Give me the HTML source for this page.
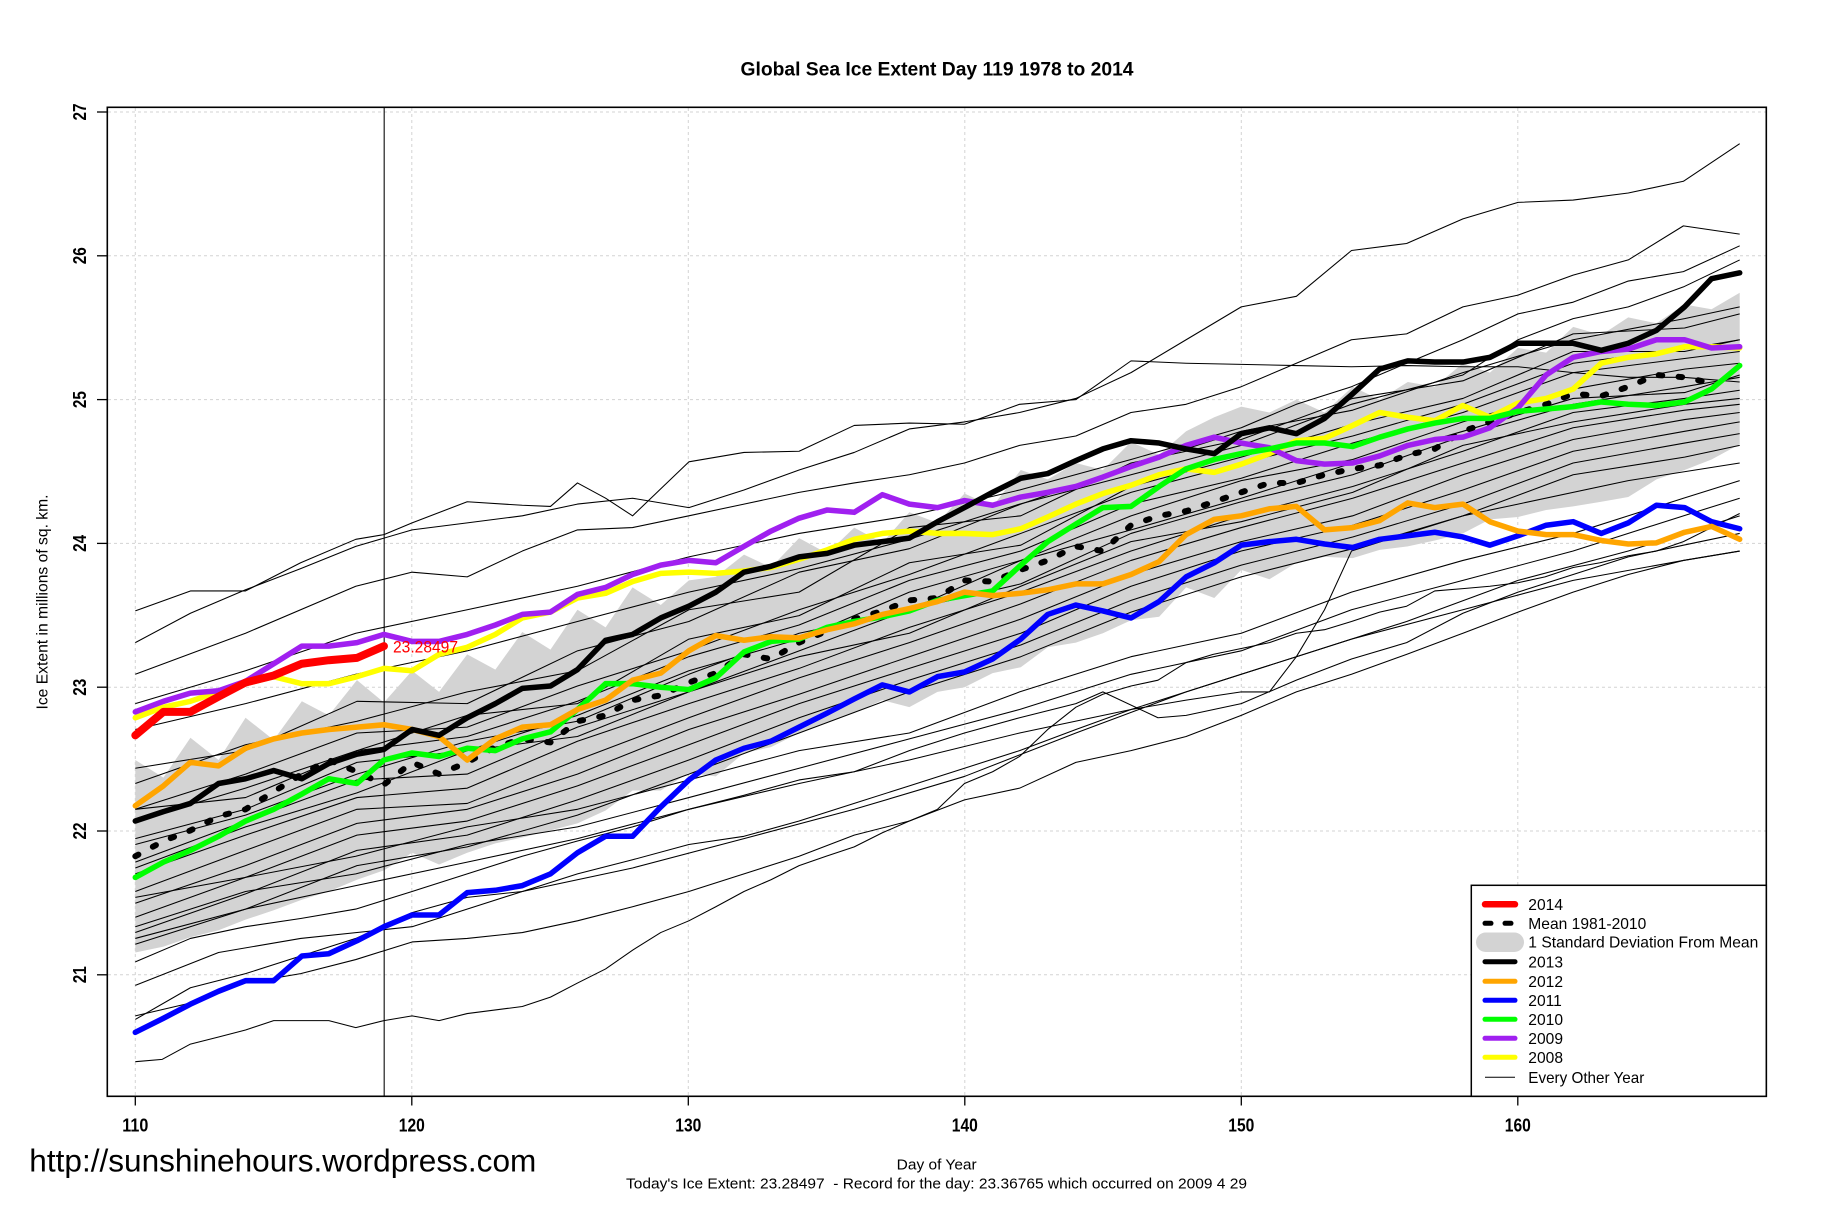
<!DOCTYPE html>
<html>
<head>
<meta charset="utf-8">
<style>
html,body{margin:0;padding:0;background:#fff;}
svg{display:block;}
text{font-family:"Liberation Sans",Arial,sans-serif;}
</style>
</head>
<body>
<svg xmlns="http://www.w3.org/2000/svg" width="1836" height="1223" viewBox="0 0 1836 1223">
<rect x="0" y="0" width="1836" height="1223" fill="#fff"/>

<!-- grid -->
<g stroke="#d3d3d3" stroke-width="1" stroke-dasharray="3 3" fill="none">
  <line x1="135.3" y1="108" x2="135.3" y2="1096"/>
  <line x1="411.8" y1="108" x2="411.8" y2="1096"/>
  <line x1="688.3" y1="108" x2="688.3" y2="1096"/>
  <line x1="964.8" y1="108" x2="964.8" y2="1096"/>
  <line x1="1241.3" y1="108" x2="1241.3" y2="1096"/>
  <line x1="1517.8" y1="108" x2="1517.8" y2="1096"/>
  <line x1="108" y1="112" x2="1766" y2="112"/>
  <line x1="108" y1="255.8" x2="1766" y2="255.8"/>
  <line x1="108" y1="399.6" x2="1766" y2="399.6"/>
  <line x1="108" y1="543.4" x2="1766" y2="543.4"/>
  <line x1="108" y1="687.2" x2="1766" y2="687.2"/>
  <line x1="108" y1="831" x2="1766" y2="831"/>
  <line x1="108" y1="974.8" x2="1766" y2="974.8"/>
</g>

<g transform="matrix(1.1728 0 0 1.1739 -0.74 -0.69)" fill="none" stroke-linejoin="round">
<!-- SD band -->
<polygon fill="#d3d3d3" stroke="none" points="116,648 140,663 163,629 187,648 210,612 234,631 258,598 281,610 305,580 328,599 352,572 375,590 399,558 423,571 446,539 470,554 493,520 517,535 540,501 564,516 588,495 611,492 635,473 658,484 682,459 706,472 729,450 753,463 776,437 800,446 823,421 847,432 871,401 894,409 918,395 941,401 965,377 989,388 1012,368 1036,356 1059,347 1083,352 1106,341 1130,352 1154,330 1177,341 1201,326 1224,330 1248,310 1271,318 1295,297 1319,301 1342,279 1366,286 1389,271 1413,276 1437,260 1460,264 1484,250 1484,379 1460,392 1437,401 1413,409 1389,424 1366,428 1342,432 1319,435 1295,441 1271,443 1248,455 1224,461 1201,466 1177,469 1154,476 1130,475 1106,480 1083,494 1059,486 1036,510 1012,501 989,526 965,529 941,540 918,548 894,552 871,569 847,574 823,586 800,590 776,603 753,597 729,608 706,616 682,625 658,637 635,642 611,662 588,659 564,674 540,674 517,691 493,702 470,708 446,714 423,719 399,727 375,737 352,727 328,742 305,750 281,760 258,767 234,776 210,784 187,793 163,799 140,807 116,812"/>

<!-- thin lines: every other year -->
<g stroke="#000" stroke-width="0.9">
<polyline points="116,548 163,523 210,503 257,485 304,466 352,452 399,446 446,440 493,430 540,425 588,433 635,418 682,401 729,386 776,366 823,360 870,352 918,340 965,318 1012,290 1059,262 1106,253 1153,214 1200,208 1248,187 1295,173 1342,171 1389,165 1436,155 1484,123"/>
<polyline points="116,521 163,504 210,504 257,480 304,460 328,456 352,446 399,428 446,431 470,432 493,412 517,425 540,440 588,394 635,386 682,385 729,363 776,361 823,362 870,345 918,341 965,308 1012,310 1059,311 1106,312 1153,313 1200,312 1248,313 1295,313 1342,318 1389,322 1436,322 1484,326"/>
<polyline points="116,575 210,540 304,500 352,488 399,492 446,470 493,452 540,450 588,440 635,430 682,420 729,412 776,405 823,395 870,380 918,372 965,352 1012,345 1059,330 1106,310 1153,290 1200,285 1248,262 1295,252 1342,235 1389,222 1436,193 1484,200"/>
<polyline points="116,600 210,572 304,540 399,520 493,500 588,475 682,455 776,440 870,418 965,392 1059,365 1106,345 1153,330 1200,310 1248,290 1295,268 1342,258 1389,240 1436,232 1484,210"/>
<polyline points="116,622 210,600 304,575 399,555 493,530 588,505 682,485 776,460 870,430 965,405 1059,380 1153,345 1248,320 1295,290 1342,272 1389,262 1436,245 1484,222"/>
<polyline points="116,655 210,640 305,598 399,600 493,555 588,530 682,488 776,468 871,430 965,398 1059,368 1154,350 1248,318 1342,290 1437,272 1484,262"/>
<polyline points="116,668 210,635 305,615 399,590 493,572 588,520 682,505 776,450 871,440 965,395 1059,375 1154,340 1248,325 1342,285 1437,280 1484,268"/>
<polyline points="116,690 210,660 305,625 399,620 493,585 588,555 682,520 776,490 871,455 965,420 1059,395 1154,372 1248,345 1342,310 1437,298 1484,290"/>
<polyline points="116,700 210,672 305,640 399,628 493,598 588,560 682,533 776,495 871,470 965,430 1059,408 1154,378 1248,352 1342,318 1437,306 1484,300"/>
<polyline points="116,715 210,690 305,650 399,640 493,610 588,572 682,545 776,505 871,478 965,440 1059,410 1154,392 1248,360 1342,332 1437,315 1484,310"/>
<polyline points="116,735 210,700 305,665 399,660 493,620 588,590 682,555 776,520 871,498 965,455 1059,428 1154,405 1248,372 1342,345 1437,330 1484,322"/>
<polyline points="116,745 210,712 305,680 399,672 493,632 588,600 682,570 776,535 871,505 965,470 1059,440 1154,415 1248,385 1342,352 1437,340 1484,333"/>
<polyline points="116,760 210,725 305,690 399,685 493,648 588,612 682,578 776,548 871,515 965,478 1059,450 1154,425 1248,395 1342,365 1437,350 1484,345"/>
<polyline points="116,770 210,738 305,702 399,690 493,660 588,622 682,592 776,560 871,528 965,490 1059,462 1154,440 1248,405 1342,375 1437,358 1484,352"/>
<polyline points="116,782 210,748 305,712 399,700 493,670 588,635 682,600 776,570 871,540 965,500 1059,470 1154,448 1248,418 1342,385 1437,368 1484,360"/>
<polyline points="116,795 210,762 305,725 399,712 493,682 588,648 682,612 776,580 871,550 965,512 1059,482 1154,458 1248,430 1342,395 1437,378 1484,370"/>
<polyline points="116,805 210,775 305,738 399,722 493,695 588,660 682,625 776,590 871,560 965,522 1059,492 1154,468 1248,440 1342,405 1437,390 1484,380"/>
<polyline points="116,740 210,705 305,676 399,640 493,628 588,590 682,560 776,540 871,500 965,462 1059,445 1154,420 1248,380 1342,360 1437,345 1484,340"/>
<polyline points="116,720 210,695 305,660 399,632 493,615 588,575 682,540 776,520 871,478 965,452 1059,425 1154,395 1248,368 1342,340 1437,335 1484,320"/>
<polyline points="116,690 210,680 305,640 399,610 493,600 588,545 682,525 776,480 871,465 965,415 1059,390 1154,362 1248,340 1342,300 1437,300 1484,290"/>
<polyline points="116,905 139,903 163,890 187,884 210,878 234,870 257,870 281,870 304,876 328,870 352,866 375,870 399,864 446,858 470,850 493,838 517,826 540,810 564,795 588,785 611,773 635,760 658,750 682,738 705,730 729,722 753,710 776,700 800,690 823,668 847,658 870,645 894,622 918,603 941,592 965,585 988,580 1012,565 1035,558 1059,553 1083,548 1106,540 1130,537 1153,530 1177,522 1200,517 1224,504 1248,502 1271,500 1295,497 1318,492 1342,484 1365,480 1389,474 1413,470 1436,462 1460,450 1484,438"/>
<polyline points="116,866 163,855 210,838 257,830 304,818 352,803 399,800 446,795 493,785 540,773 588,760 635,745 682,730 729,712 776,700 823,682 870,672 918,650 965,640 1012,628 1059,610 1106,590 1153,575 1200,558 1248,540 1295,522 1342,505 1389,490 1436,478 1484,470"/>
<polyline points="116,869 163,842 210,830 257,815 304,800 352,778 399,765 446,760 493,745 540,733 588,720 635,713 682,700 729,685 776,670 823,655 870,640 918,622 965,605 1012,597 1059,590 1083,590 1106,560 1130,520 1153,470 1200,455 1248,440 1295,430 1389,410 1484,395"/>
<polyline points="116,820 163,800 210,790 257,783 304,775 352,760 399,745 446,730 493,717 540,705 588,690 635,678 682,665 729,658 776,640 823,625 870,612 918,600 941,590 988,612 1012,610 1059,600 1106,580 1153,562 1200,548 1248,523 1295,505 1342,490 1389,475 1436,465 1484,455"/>
<polyline points="116,840 187,812 257,800 352,790 446,760 540,740 635,715 729,690 823,662 918,625 1012,590 1106,560 1200,530 1295,495 1389,470 1484,440"/>
<polyline points="116,800 210,775 304,755 399,735 493,715 588,690 682,668 776,648 870,625 965,605 1059,575 1153,545 1248,520 1342,495 1436,478 1484,470"/>
<polyline points="116,765 210,748 304,730 399,705 493,690 588,665 682,640 776,625 870,590 965,560 1059,540 1153,505 1248,478 1342,455 1436,425 1484,410"/>
<polyline points="116,790 210,760 304,745 399,720 493,705 588,680 682,655 776,630 870,605 965,575 1059,555 1153,520 1248,495 1342,470 1436,440 1484,425"/>
</g>

<!-- vertical line day 119 -->
<line x1="328.2" y1="92" x2="328.2" y2="934" stroke="#000" stroke-width="0.9"/>

<!-- mean -->
<polyline stroke="#000" stroke-width="5.1" stroke-linecap="round" stroke-dasharray="3 14" points="116,730 140,717 163,708 187,696 210,690 234,675 258,660 281,648 305,658 328,669 352,650 375,660 399,650 423,637 446,630 470,633 493,615 517,610 540,597 564,593 588,582 611,574 635,558 658,562 682,548 706,538 729,528 753,521 776,512 800,510 823,495 847,496 871,486 894,478 918,466 941,470 965,448 989,440 1012,436 1036,428 1059,420 1083,412 1106,412 1130,405 1154,400 1177,397 1201,388 1224,383 1248,368 1271,360 1295,352 1319,345 1342,336 1366,338 1389,330 1413,320 1437,322 1460,327"/>

<g stroke-width="4.7" stroke-linecap="round">
<!-- 2008 -->
<polyline stroke="#ffff00" points="116,612 140,603 163,598 187,590 210,583 234,577 258,583 281,583 305,577 328,570 352,572 375,558 399,552 423,541 446,527 470,522 493,510 517,506 540,496 564,489 588,488 611,489 635,487 658,484 682,477 706,469 729,460 753,455 776,453 800,455 823,455 847,456 871,451 894,441 918,430 941,421 965,414 989,405 1012,400 1036,403 1059,396 1083,387 1106,376 1130,374 1154,363 1177,352 1201,356 1224,359 1248,346 1271,356 1295,344 1319,340 1342,332 1366,310 1389,305 1413,302 1437,296 1460,296 1484,297"/>
<!-- 2009 -->
<polyline stroke="#a020f0" points="116,607 140,598 163,591 187,589 210,581 234,566 258,551 281,551 305,548 328,541 352,547 375,547 399,541 423,533 446,524 470,522 493,507 517,501 540,490 564,482 588,478 611,480 635,466 658,453 682,442 706,435 729,437 753,422 776,430 800,433 823,427 847,431 871,424 894,420 918,415 941,407 965,398 989,390 1012,380 1036,373 1059,378 1083,382 1106,393 1130,396 1154,395 1177,389 1201,380 1224,375 1248,373 1271,365 1295,348 1319,320 1342,305 1366,300 1389,298 1413,290 1437,290 1460,297 1484,296"/>
<!-- 2010 -->
<polyline stroke="#00ff00" points="116,748 140,735 163,725 187,713 210,700 234,690 258,677 281,664 305,668 328,648 352,642 375,645 399,638 423,640 446,630 470,624 493,605 517,583 540,583 564,586 588,588 611,578 635,556 658,547 682,545 706,535 729,530 753,526 776,521 800,512 823,508 847,504 871,482 894,462 918,447 941,433 965,432 989,415 1012,400 1036,392 1059,387 1083,383 1106,378 1130,378 1154,381 1177,373 1201,366 1224,361 1248,357 1271,357 1295,351 1319,349 1342,347 1366,343 1389,345 1413,346 1437,343 1460,332 1484,312"/>
<!-- 2011 -->
<polyline stroke="#0000ff" points="116,880 140,868 163,856 187,845 210,836 234,836 258,815 281,813 305,802 328,790 352,780 375,780 399,761 423,759 446,755 470,745 493,727 517,713 540,713 564,688 588,665 611,648 635,638 658,632 682,620 706,608 729,596 753,584 776,590 800,577 823,573 847,562 871,545 894,524 918,516 941,521 965,527 989,513 1012,492 1036,480 1059,465 1083,462 1106,460 1130,464 1154,467 1177,460 1201,457 1224,454 1248,458 1271,465 1295,457 1319,448 1342,445 1366,455 1389,446 1413,431 1437,433 1460,445 1484,451"/>
<!-- 2012 -->
<polyline stroke="#ffa500" points="116,687 140,670 163,650 187,653 210,638 234,630 258,625 281,622 305,620 328,618 352,622 375,628 399,648 423,630 446,620 470,618 493,605 517,597 540,580 564,574 588,555 611,542 635,546 658,543 682,544 706,537 729,532 753,524 776,519 800,513 823,505 847,508 871,506 894,503 918,498 941,498 965,490 989,479 1012,456 1036,443 1059,440 1083,434 1106,432 1130,452 1154,450 1177,444 1201,429 1224,433 1248,430 1271,445 1295,453 1319,456 1342,456 1366,461 1389,464 1413,463 1437,454 1460,449 1484,460"/>
<!-- 2013 -->
<polyline stroke="#000000" points="116,700 140,692 163,685 187,668 210,664 234,657 258,664 281,651 305,643 328,639 352,622 375,627 399,612 423,600 446,587 470,585 493,571 517,546 540,541 564,527 588,517 611,505 635,488 658,483 682,475 706,472 729,465 753,462 776,459 800,445 823,433 847,420 871,408 894,404 918,393 941,383 965,376 989,378 1012,383 1036,387 1059,370 1083,365 1106,370 1130,357 1154,336 1177,315 1201,308 1224,309 1248,309 1271,305 1295,293 1319,293 1342,293 1366,299 1389,293 1413,282 1437,262 1460,238 1484,233"/>
<!-- 2014 -->
<polyline stroke="#ff0000" stroke-width="6.8" points="116,627 140,607 163,607 187,594 210,582 234,576 258,566 281,563 305,561 328,551"/>
</g>
</g>

<!-- red label -->
<text x="393" y="652.7" font-size="16.5" fill="#ff0000" textLength="65" lengthAdjust="spacingAndGlyphs">23.28497</text>

<!-- plot box -->
<rect x="107.3" y="107.3" width="1659" height="989" fill="none" stroke="#000" stroke-width="1.6"/>

<!-- x ticks -->
<g stroke="#000" stroke-width="1.3">
  <line x1="135.3" y1="1096" x2="135.3" y2="1105.5"/>
  <line x1="411.8" y1="1096" x2="411.8" y2="1105.5"/>
  <line x1="688.3" y1="1096" x2="688.3" y2="1105.5"/>
  <line x1="964.8" y1="1096" x2="964.8" y2="1105.5"/>
  <line x1="1241.3" y1="1096" x2="1241.3" y2="1105.5"/>
  <line x1="1517.8" y1="1096" x2="1517.8" y2="1105.5"/>
  <line x1="97" y1="112" x2="107" y2="112"/>
  <line x1="97" y1="255.8" x2="107" y2="255.8"/>
  <line x1="97" y1="399.6" x2="107" y2="399.6"/>
  <line x1="97" y1="543.4" x2="107" y2="543.4"/>
  <line x1="97" y1="687.2" x2="107" y2="687.2"/>
  <line x1="97" y1="831" x2="107" y2="831"/>
  <line x1="97" y1="974.8" x2="107" y2="974.8"/>
</g>
<g font-size="18.5" font-weight="bold" text-anchor="middle" fill="#000">
  <text x="135.3" y="1131.7" textLength="26" lengthAdjust="spacingAndGlyphs">110</text>
  <text x="411.8" y="1131.7" textLength="26" lengthAdjust="spacingAndGlyphs">120</text>
  <text x="688.3" y="1131.7" textLength="26" lengthAdjust="spacingAndGlyphs">130</text>
  <text x="964.8" y="1131.7" textLength="26" lengthAdjust="spacingAndGlyphs">140</text>
  <text x="1241.3" y="1131.7" textLength="26" lengthAdjust="spacingAndGlyphs">150</text>
  <text x="1517.8" y="1131.7" textLength="26" lengthAdjust="spacingAndGlyphs">160</text>
  <text x="86" y="112" transform="rotate(-90 86 112)" textLength="17" lengthAdjust="spacingAndGlyphs">27</text>
  <text x="86" y="255.8" transform="rotate(-90 86 255.8)" textLength="17" lengthAdjust="spacingAndGlyphs">26</text>
  <text x="86" y="399.6" transform="rotate(-90 86 399.6)" textLength="17" lengthAdjust="spacingAndGlyphs">25</text>
  <text x="86" y="543.4" transform="rotate(-90 86 543.4)" textLength="17" lengthAdjust="spacingAndGlyphs">24</text>
  <text x="86" y="687.2" transform="rotate(-90 86 687.2)" textLength="17" lengthAdjust="spacingAndGlyphs">23</text>
  <text x="86" y="831" transform="rotate(-90 86 831)" textLength="17" lengthAdjust="spacingAndGlyphs">22</text>
  <text x="86" y="974.8" transform="rotate(-90 86 974.8)" textLength="17" lengthAdjust="spacingAndGlyphs">21</text>
</g>

<!-- title & labels -->
<text x="937" y="75.5" font-size="19.5" font-weight="bold" text-anchor="middle" textLength="393" lengthAdjust="spacingAndGlyphs">Global Sea Ice Extent Day 119 1978 to 2014</text>
<text x="47.5" y="602" font-size="15.3" text-anchor="middle" transform="rotate(-90 47.5 602)" textLength="215" lengthAdjust="spacingAndGlyphs">Ice Extent in millions of sq. km.</text>
<text x="936.7" y="1169.3" font-size="15.2" text-anchor="middle" textLength="80" lengthAdjust="spacingAndGlyphs">Day of Year</text>
<text x="626" y="1188.3" font-size="15.2" textLength="621" lengthAdjust="spacingAndGlyphs" xml:space="preserve">Today's Ice Extent: 23.28497  - Record for the day: 23.36765 which occurred on 2009 4 29</text>
<text x="29.3" y="1171.7" font-size="31.5" textLength="507" lengthAdjust="spacingAndGlyphs">http://sunshinehours.wordpress.com</text>

<!-- legend -->
<rect x="1471.3" y="885.3" width="295" height="211" fill="#fff" stroke="#000" stroke-width="1.5"/>
<g stroke-linecap="round" fill="none">
  <line x1="1485" y1="904.3" x2="1515" y2="904.3" stroke="#ff0000" stroke-width="6.5"/>
  <line x1="1485" y1="923.3" x2="1491" y2="923.3" stroke="#000" stroke-width="5"/>
  <line x1="1505" y1="923.3" x2="1511" y2="923.3" stroke="#000" stroke-width="5"/>
  <line x1="1485" y1="961.7" x2="1515" y2="961.7" stroke="#000" stroke-width="5"/>
  <line x1="1485" y1="981.3" x2="1515" y2="981.3" stroke="#ffa500" stroke-width="5"/>
  <line x1="1485" y1="1000.3" x2="1515" y2="1000.3" stroke="#0000ff" stroke-width="5"/>
  <line x1="1485" y1="1019.3" x2="1515" y2="1019.3" stroke="#00ff00" stroke-width="5"/>
  <line x1="1485" y1="1038.3" x2="1515" y2="1038.3" stroke="#a020f0" stroke-width="5"/>
  <line x1="1485" y1="1057.3" x2="1515" y2="1057.3" stroke="#ffff00" stroke-width="5"/>
  <line x1="1485" y1="1077.3" x2="1515" y2="1077.3" stroke="#000" stroke-width="1" stroke-linecap="butt"/>
</g>
<rect x="1476" y="932.5" width="48" height="19.5" rx="9.75" ry="9.75" fill="#d3d3d3"/>
<g font-size="15.6" fill="#000">
  <text x="1528.3" y="910">2014</text>
  <text x="1528.3" y="929" textLength="118" lengthAdjust="spacingAndGlyphs">Mean 1981-2010</text>
  <text x="1528.3" y="947.7" textLength="230" lengthAdjust="spacingAndGlyphs">1 Standard Deviation From Mean</text>
  <text x="1528.3" y="967.4">2013</text>
  <text x="1528.3" y="987">2012</text>
  <text x="1528.3" y="1006">2011</text>
  <text x="1528.3" y="1025">2010</text>
  <text x="1528.3" y="1044">2009</text>
  <text x="1528.3" y="1063">2008</text>
  <text x="1528.3" y="1083" textLength="116" lengthAdjust="spacingAndGlyphs">Every Other Year</text>
</g>
</svg>
</body>
</html>
